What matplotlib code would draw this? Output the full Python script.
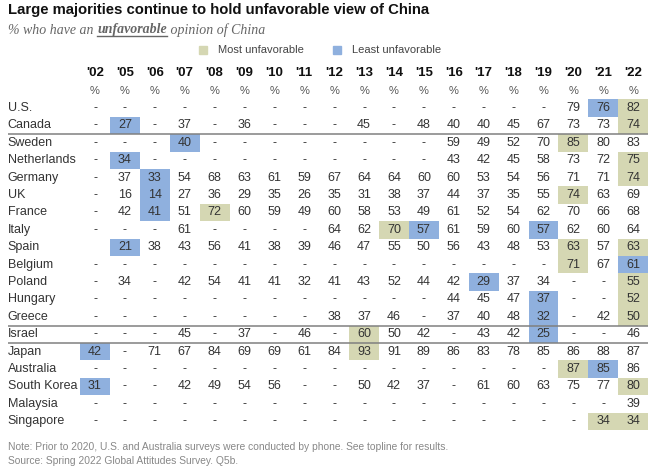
import matplotlib.pyplot as plt
from matplotlib.patches import Rectangle

plt.rcParams['font.family'] = ['Liberation Sans', 'DejaVu Sans']

years = ["'02", "'05", "'06", "'07", "'08", "'09", "'10", "'11", "'12", "'13",
         "'14", "'15", "'16", "'17", "'18", "'19", "'20", "'21", "'22"]

countries = ["U.S.", "Canada", "Sweden", "Netherlands", "Germany", "UK", "France",
             "Italy", "Spain", "Belgium", "Poland", "Hungary", "Greece", "Israel",
             "Japan", "Australia", "South Korea", "Malaysia", "Singapore"]

# None = "-" (no survey), '' = blank cell
_ = None
values = [
    [_, _, _, _, _, _, _, _, _, _, _, _, _, _, _, _, 79, 76, 82],
    [_, 27, _, 37, _, 36, _, _, _, 45, _, 48, 40, 40, 45, 67, 73, 73, 74],
    [_, _, _, 40, _, _, _, _, _, _, _, _, 59, 49, 52, 70, 85, 80, 83],
    [_, 34, _, _, _, _, _, _, _, _, _, _, 43, 42, 45, 58, 73, 72, 75],
    [_, 37, 33, 54, 68, 63, 61, 59, 67, 64, 64, 60, 60, 53, 54, 56, 71, 71, 74],
    [_, 16, 14, 27, 36, 29, 35, 26, 35, 31, 38, 37, 44, 37, 35, 55, 74, 63, 69],
    [_, 42, 41, 51, 72, 60, 59, 49, 60, 58, 53, 49, 61, 52, 54, 62, 70, 66, 68],
    [_, _, _, 61, _, _, _, _, 64, 62, 70, 57, 61, 59, 60, 57, 62, 60, 64],
    ['', 21, 38, 43, 56, 41, 38, 39, 46, 47, 55, 50, 56, 43, 48, 53, 63, 57, 63],
    [_, _, _, _, _, _, _, _, _, _, _, _, _, _, _, _, 71, 67, 61],
    [_, 34, _, 42, 54, 41, 41, 32, 41, 43, 52, 44, 42, 29, 37, 34, _, _, 55],
    [_, _, _, _, _, _, _, _, _, _, _, _, 44, 45, 47, 37, _, _, 52],
    [_, _, _, _, _, _, _, _, 38, 37, 46, _, 37, 40, 48, 32, _, 42, 50],
    [_, _, _, 45, _, 37, _, 46, _, 60, 50, 42, _, 43, 42, 25, _, _, 46],
    [42, _, 71, 67, 84, 69, 69, 61, 84, 93, 91, 89, 86, 83, 78, 85, 86, 88, 87],
    [_, _, _, _, _, _, _, _, _, _, _, _, _, _, _, _, 87, 85, 86],
    [31, _, _, 42, 49, 54, 56, _, _, 50, 42, 37, _, 61, 60, 63, 75, 77, 80],
    [_, _, _, _, _, _, _, _, _, _, _, _, _, _, _, _, _, _, 39],
    [_, _, _, _, _, _, _, _, _, _, _, _, _, _, _, _, _, 34, 34],
]

most_unfav = {"U.S.": ["'22"], "Canada": ["'22"], "Sweden": ["'20"],
              "Netherlands": ["'22"], "Germany": ["'22"], "UK": ["'20"],
              "France": ["'08"], "Italy": ["'14"], "Spain": ["'20", "'22"],
              "Belgium": ["'20"], "Poland": ["'22"], "Hungary": ["'22"],
              "Greece": ["'22"], "Israel": ["'13"], "Japan": ["'13"],
              "Australia": ["'20"], "South Korea": ["'22"],
              "Singapore": ["'21", "'22"]}
least_unfav = {"U.S.": ["'21"], "Canada": ["'05"], "Sweden": ["'07"],
               "Netherlands": ["'05"], "Germany": ["'06"], "UK": ["'06"],
               "France": ["'06"], "Italy": ["'15", "'19"], "Spain": ["'05"],
               "Belgium": ["'22"], "Poland": ["'17"], "Hungary": ["'19"],
               "Greece": ["'19"], "Israel": ["'19"], "Japan": ["'02"],
               "Australia": ["'21"], "South Korea": ["'02"]}

# rows after which a divider is drawn
dividers = ["Canada", "Greece", "Israel"]

col_most = '#d5d7b3'
col_least = '#8fb0de'
txt = '#333333'

W, H = 658, 467
fig = plt.figure(figsize=(W / 100, H / 100), dpi=100)

# table axes: one unit per column / row
col0, colw = 95, 29.9
row0, rowh = 108, 17.4
x_lo, x_hi = -2.92, 18.6
y_top, y_bot = -2.8, 18.6
ax = fig.add_axes([(col0 + x_lo * colw) / W,
                   1 - (row0 + y_bot * rowh) / H,
                   (x_hi - x_lo) * colw / W,
                   (y_bot - y_top) * rowh / H])
ax.set_xlim(x_lo, x_hi)
ax.set_ylim(y_bot, y_top)
ax.axis('off')

# highlighted cells
for hl, color in [(most_unfav, col_most), (least_unfav, col_least)]:
    for c, yrs in hl.items():
        j = countries.index(c)
        for yr in yrs:
            ax.bar(years.index(yr), 1, bottom=j - 0.5, width=1, color=color,
                   zorder=0, linewidth=0)

for i, yr in enumerate(years):
    ax.text(i, -2, yr, ha='center', va='center', fontsize=9.5,
            fontweight='bold', color='#111111')
    ax.text(i, -0.95, '%', ha='center', va='center', fontsize=8, color='#555555')

for j, c in enumerate(countries):
    ax.text(x_lo, j, c, ha='left', va='center', fontsize=9, color=txt)
    for i, v in enumerate(values[j]):
        s = '-' if v is None else str(v)
        ax.text(i, j, s, ha='center', va='center', fontsize=9, color=txt)

for c in dividers:
    j = countries.index(c)
    ax.hlines(j + 0.5, x_lo, 18.5, color='#808080', linewidth=1.1)

# title, subtitle
fig.text(8 / W, 1 - 10 / H, 'Large majorities continue to hold unfavorable view of China',
         fontsize=10.7, fontweight='bold', color='#111111', va='center', ha='left')

fig.canvas.draw()
r = fig.canvas.get_renderer()
x = 8
sub_y = 1 - 30 / H
parts = [('% who have an ', 'normal'), ('unfavorable', 'bold'), (' opinion of China', 'normal')]
for s, w in parts:
    t = fig.text(x / W, sub_y, s, fontsize=10, style='italic', fontweight=w,
                 family='Liberation Serif', color='#666666', va='center', ha='left')
    bb = t.get_window_extent(r)
    if w == 'bold':
        fig.add_artist(plt.Line2D([bb.x0 / W, bb.x1 / W],
                                  [(bb.y0 + 1) / H, (bb.y0 + 1) / H],
                                  color='#666666', linewidth=1))
    x += bb.width

# legend
for lx, label, color in [(199, 'Most unfavorable', col_most),
                         (333, 'Least unfavorable', col_least)]:
    fig.add_artist(Rectangle((lx / W, 1 - 54 / H), 8 / W, 8 / H, color=color,
                             transform=fig.transFigure))
    fig.text((lx + 19) / W, 1 - 50 / H, label, fontsize=8, color='#444444',
             va='center', ha='left')

fig.text(8 / W, 1 - 447 / H,
         'Note: Prior to 2020, U.S. and Australia surveys were conducted by phone. See topline for results.',
         fontsize=7.4, color='#888888', va='center', ha='left')
fig.text(8 / W, 1 - 461 / H, 'Source: Spring 2022 Global Attitudes Survey. Q5b.',
         fontsize=7.4, color='#888888', va='center', ha='left')

fig.savefig('out.png', dpi=100, facecolor='white')
